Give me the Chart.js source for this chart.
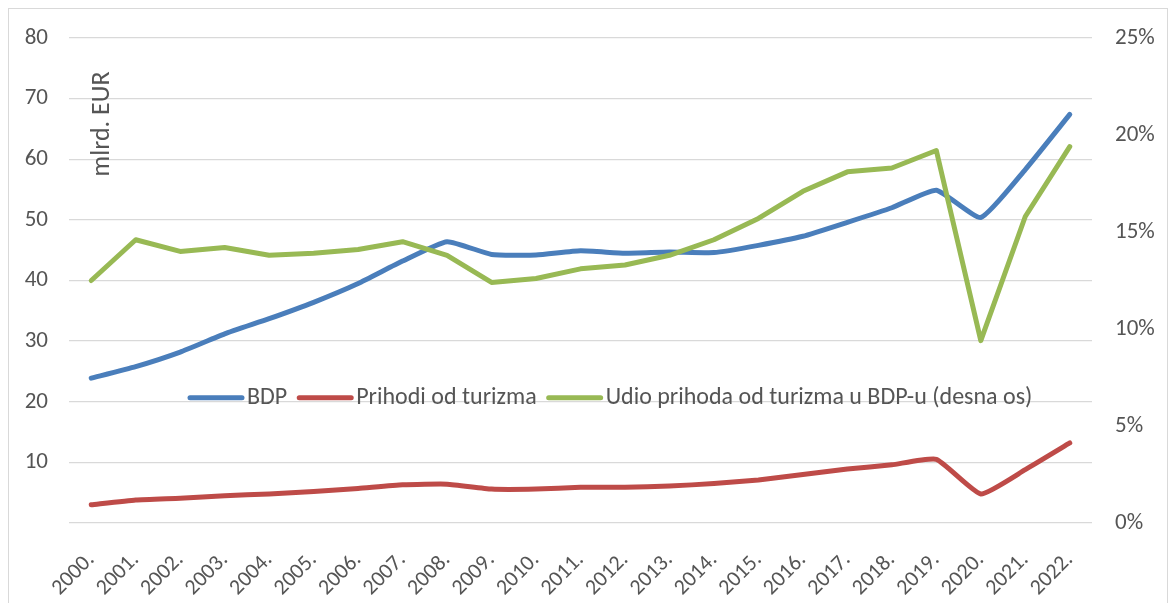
<!DOCTYPE html>
<html lang="hr">
<head>
  <meta charset="UTF-8" />
  <title>BDP i prihodi od turizma</title>
  <script src="https://cdn.jsdelivr.net/npm/chart.js"></script>
  <style>
    * {
      margin: 0;
      padding: 0;
      box-sizing: border-box;
    }

    body {
      background: #fff;
      width: 1176px;
      height: 603px;
      overflow: hidden;
      position: relative;
    }

    .frame {
      position: absolute;
      left: 8px;
      top: 8px;
      width: 1160px;
      height: 610px;
      border: 1px solid #d9d9d9;
    }

    canvas {
      display: block;
    }
  </style>
</head>
<body>
  <div class="frame">
    <canvas id="chart" width="1158" height="608"></canvas>
  </div>

  <script>
    const years = ['2000.', '2001.', '2002.', '2003.', '2004.', '2005.', '2006.', '2007.', '2008.', '2009.', '2010.',
      '2011.', '2012.', '2013.', '2014.', '2015.', '2016.', '2017.', '2018.', '2019.', '2020.', '2021.', '2022.'];

    // mlrd. EUR
    const bdp = [23.9, 25.8, 28.2, 31.2, 33.7, 36.4, 39.5, 43.2, 46.4, 44.3, 44.2, 44.9, 44.5, 44.7, 44.6,
      45.8, 47.3, 49.6, 52.0, 54.9, 50.4, 58.3, 67.4];
    const prihodi = [3.0, 3.8, 4.1, 4.5, 4.8, 5.2, 5.7, 6.3, 6.4, 5.6, 5.6, 5.9, 5.9, 6.1, 6.5,
      7.1, 8.0, 8.9, 9.6, 10.5, 4.8, 8.8, 13.2];
    // % (desna os)
    const udio = [12.5, 14.6, 14.0, 14.2, 13.8, 13.9, 14.1, 14.5, 13.8, 12.4, 12.6, 13.1, 13.3, 13.8, 14.6,
      15.7, 17.1, 18.1, 18.3, 19.2, 9.4, 15.8, 19.4];

    const seriesNames = ['BDP', 'Prihodi od turizma', 'Udio prihoda od turizma u BDP-u (desna os)'];
    const leftTicks = { min: 0, max: 80, step: 10 };
    const rightTicks = { min: 0, max: 25, step: 5 };

    const fontFamily = "Carlito, Lato, 'Open Sans', sans-serif";
    const textColor = '#555555';

    // axis title inside the plot area, Excel style
    const axisTitle = {
      id: 'axisTitle',
      afterDraw(chart) {
        const { ctx, chartArea } = chart;
        ctx.save();
        ctx.translate(chartArea.left + 33, chartArea.top + 86);
        ctx.rotate(-Math.PI / 2);
        ctx.font = '26px ' + fontFamily;
        ctx.fillStyle = textColor;
        ctx.textAlign = 'center';
        ctx.textBaseline = 'middle';
        ctx.fillText('mlrd. EUR', 0, 0);
        ctx.restore();
      }
    };

    // legend drawn inside the plot, on the 20 grid line
    const innerLegend = {
      id: 'innerLegend',
      afterDraw(chart) {
        const { ctx, chartArea } = chart;
        const y = chart.scales.y.getPixelForValue(20) - 4;
        ctx.save();
        ctx.font = '24px ' + fontFamily;
        ctx.textBaseline = 'middle';
        let x = chartArea.left + 119;
        chart.data.datasets.forEach(ds => {
          ctx.strokeStyle = ds.borderColor;
          ctx.lineWidth = 5;
          ctx.lineCap = 'round';
          ctx.beginPath();
          ctx.moveTo(x + 2, y);
          ctx.lineTo(x + 54, y);
          ctx.stroke();
          x += 59;
          ctx.fillStyle = textColor;
          ctx.fillText(ds.label, x, y);
          x += ctx.measureText(ds.label).width + 10;
        });
        ctx.restore();
      }
    };

    new Chart(document.getElementById('chart'), {
      type: 'line',
      data: {
        labels: years,
        datasets: [
          {
            label: seriesNames[0],
            data: bdp,
            borderColor: '#4a7ebb',
            borderWidth: 5,
            tension: 0.15,
            yAxisID: 'y',
            order: 2
          },
          {
            label: seriesNames[1],
            data: prihodi,
            borderColor: '#be4b48',
            borderWidth: 5,
            tension: 0.15,
            yAxisID: 'y',
            order: 1
          },
          {
            label: seriesNames[2],
            data: udio,
            borderColor: '#98b954',
            borderWidth: 5,
            tension: 0,
            yAxisID: 'y1',
            order: 0
          }
        ]
      },
      options: {
        responsive: false,
        animation: false,
        events: [],
        layout: {
          padding: { top: 29, left: 0, right: 0, bottom: 0 }
        },
        elements: {
          point: { radius: 0 },
          line: { borderCapStyle: 'round', borderJoinStyle: 'round' }
        },
        plugins: {
          legend: { display: false },
          tooltip: { enabled: false }
        },
        scales: {
          x: {
            offset: true,
            grid: { display: false },
            border: { display: false },
            ticks: {
              color: textColor,
              font: { family: fontFamily, size: 22 },
              minRotation: 45,
              maxRotation: 45,
              autoSkip: false,
              padding: 16
            },
            afterFit(scale) { scale.height = 94; }
          },
          y: {
            position: 'left',
            min: leftTicks.min,
            max: leftTicks.max,
            border: { display: false },
            // invisible tick marks keep labels off the plot without vertical padding
            grid: { color: '#d9d9d9', lineWidth: 1.3, drawTicks: true, tickLength: 20, tickColor: 'rgba(0,0,0,0)' },
            ticks: {
              stepSize: leftTicks.step,
              color: textColor,
              font: { family: fontFamily, size: 23 },
              padding: 1,
              callback: v => (v === 0 ? '' : v)
            },
            afterFit(scale) { scale.width = 60; }
          },
          y1: {
            position: 'right',
            min: rightTicks.min,
            max: rightTicks.max,
            border: { display: false },
            grid: { drawOnChartArea: false, drawTicks: true, tickLength: 22, tickColor: 'rgba(0,0,0,0)' },
            ticks: {
              stepSize: rightTicks.step,
              color: textColor,
              font: { family: fontFamily, size: 23 },
              padding: 1,
              callback: v => v + '%'
            },
            afterFit(scale) { scale.width = 75; }
          }
        }
      },
      plugins: [axisTitle, innerLegend]
    });
  </script>
</body>
</html>
